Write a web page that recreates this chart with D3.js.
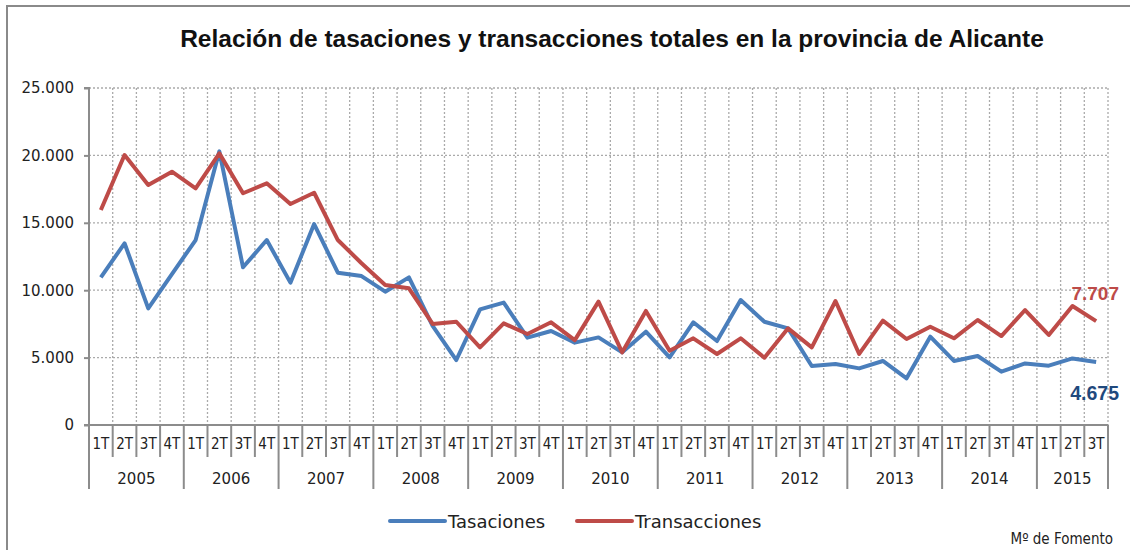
<!DOCTYPE html>
<html><head><meta charset="utf-8">
<script src="https://cdn.jsdelivr.net/npm/d3@7"></script>
<style>
html,body{margin:0;padding:0;background:#fff;}
svg{display:block;}
</style></head>
<body>
<svg id="c" width="1130" height="550"></svg>
<script>
const years = ["2005","2006","2007","2008","2009","2010","2011","2012","2013","2014","2015"];
const quarters = ["1T","2T","3T","4T"];
const tasaciones = [
 10950,13480,8650,11200,
 13720,20300,11700,13720,
 10560,14910,11300,11050,
 9890,10950,7350,4820,
 8580,9080,6480,6970,
 6110,6500,5390,6920,
 5020,7620,6230,9270,
 7660,7170,4380,4520,
 4200,4750,3460,6550,
 4750,5120,3960,4570,
 4400,4940,4675
];
const transacciones = [
 15950,20030,17800,18790,
 17560,20150,17190,17930,
 16390,17230,13720,12000,
 10390,10140,7500,7660,
 5760,7540,6750,7620,
 6300,9150,5390,8460,
 5510,6430,5270,6430,
 4990,7170,5760,9200,
 5270,7740,6380,7290,
 6430,7790,6600,8530,
 6680,8830,7707
];
const yTicks = [0,5000,10000,15000,20000,25000];
const seriesNames = ["Tasaciones","Transacciones"];
const title = "Relación de tasaciones y transacciones totales en la provincia de Alicante";
const source = "Mº de Fomento";

// categories
const cats = [];
years.forEach(y => quarters.forEach(q => { if (cats.length < tasaciones.length) cats.push({y, q}); }));

const svg = d3.select("#c");
const X0 = 89, X1 = 1108, Y0 = 425, Y1 = 88;
const x = d3.scaleBand().domain(d3.range(cats.length)).range([X0, X1]).padding(0);
const y = d3.scaleLinear().domain([0, 25000]).range([Y0, Y1]);
const fmt = v => d3.format(",")(v).replace(/,/g, ".");
const axisCol = "#8c8c8c";
const blue = "#4a7ebb", red = "#be4b48";

// frame
svg.append("path").attr("d", `M7,550 L7,6 L1130,6`).attr("fill","none").attr("stroke","#8a8a8a").attr("stroke-width",2);

// title
svg.append("text").attr("x", 612).attr("y", 47).attr("text-anchor","middle")
  .attr("font-family","Liberation Sans, Arial, sans-serif").attr("font-weight","bold")
  .attr("font-size", 24.5).attr("fill","#111").text(title);

// horizontal grid
svg.append("g").selectAll("line").data(yTicks.filter(d => d > 0)).join("line")
  .attr("x1", X0).attr("x2", X1).attr("y1", d => y(d)).attr("y2", d => y(d))
  .attr("stroke", "#aaa").attr("stroke-width", 1.3).attr("stroke-dasharray", "2,2");
// vertical grid
svg.append("g").selectAll("line").data(d3.range(1, cats.length + 1)).join("line")
  .attr("x1", i => x(i - 1) + x.bandwidth()).attr("x2", i => x(i - 1) + x.bandwidth())
  .attr("y1", Y1).attr("y2", Y0)
  .attr("stroke", "#aaa").attr("stroke-width", 1.3).attr("stroke-dasharray", "2,2");

// y axis
const yAxis = d3.axisLeft(y).tickValues(yTicks).tickFormat(fmt).tickSize(5).tickPadding(10);
const gy = svg.append("g").attr("transform", `translate(${X0},0)`).call(yAxis);
gy.select(".domain").attr("stroke", axisCol).attr("stroke-width", 2).attr("d", `M-5,${Y1}H0V${Y0}H-5`);
gy.selectAll(".tick line").attr("stroke", axisCol).attr("stroke-width", 2);
gy.selectAll(".tick text").attr("font-family","DejaVu Sans, sans-serif").attr("font-size", 15).attr("fill","#222");

// x axis: quarter labels
const xAxis = d3.axisBottom(x).tickFormat(i => cats[i].q).tickSize(0).tickPadding(10);
const gx = svg.append("g").attr("transform", `translate(0,${Y0})`).call(xAxis);
gx.select(".domain").attr("stroke", axisCol).attr("stroke-width", 2).attr("d", `M${X0-5},0H${X1}`);
gx.selectAll(".tick text").attr("font-family","DejaVu Sans Condensed, DejaVu Sans, sans-serif")
  .attr("font-size", 15).attr("fill","#222").attr("dy", "0.9em");
// separators between quarters
svg.append("g").selectAll("line").data(d3.range(0, cats.length + 1)).join("line")
  .attr("x1", i => i < cats.length ? x(i) : x(i - 1) + x.bandwidth())
  .attr("x2", i => i < cats.length ? x(i) : x(i - 1) + x.bandwidth())
  .attr("y1", Y0).attr("y2", i => (i % 4 === 0 || i === cats.length) ? 489 : 457)
  .attr("stroke", axisCol).attr("stroke-width", 2);
// year labels
svg.append("g").selectAll("text").data(years).join("text")
  .attr("x", d => {
    const idx = d3.range(cats.length).filter(i => cats[i].y === d);
    return (x(idx[0]) + x(idx[idx.length - 1]) + x.bandwidth()) / 2;
  })
  .attr("y", 484).attr("text-anchor","middle")
  .attr("font-family","DejaVu Sans, sans-serif").attr("font-size", 15).attr("fill","#222").text(d => d);

// lines
const line = d3.line().x((d, i) => x(i) + x.bandwidth() / 2).y(d => y(d)).curve(d3.curveLinear);
svg.append("path").datum(tasaciones).attr("d", line).attr("fill","none").attr("stroke", blue)
  .attr("stroke-width", 4).attr("stroke-linejoin","round");
svg.append("path").datum(transacciones).attr("d", line).attr("fill","none").attr("stroke", red)
  .attr("stroke-width", 4).attr("stroke-linejoin","round");

// end labels
const last = cats.length - 1;
svg.append("text").attr("x", 1119).attr("y", 300).attr("text-anchor","end")
  .attr("font-family","Liberation Sans, Arial, sans-serif").attr("font-weight","bold").attr("font-size", 19)
  .attr("fill", red).text(fmt(transacciones[last]));
svg.append("text").attr("x", 1119).attr("y", 400).attr("text-anchor","end")
  .attr("font-family","Liberation Sans, Arial, sans-serif").attr("font-weight","bold").attr("font-size", 19.5)
  .attr("fill", "#1f497d").text(fmt(tasaciones[last]));

// legend
const leg = [{n: seriesNames[0], c: blue, x: 390}, {n: seriesNames[1], c: red, x: 577}];
const lg = svg.append("g");
leg.forEach(l => {
  lg.append("line").attr("x1", l.x).attr("x2", l.x + 55).attr("y1", 521).attr("y2", 521)
    .attr("stroke", l.c).attr("stroke-width", 4).attr("stroke-linecap","round");
  lg.append("text").attr("x", l.x + 58).attr("y", 528)
    .attr("font-family","DejaVu Sans, sans-serif").attr("font-size", 18)
    .attr("fill","#222").text(l.n);
});

// source
svg.append("text").attr("x", 1113).attr("y", 544).attr("text-anchor","end")
  .attr("font-family","DejaVu Sans Condensed, DejaVu Sans, sans-serif").attr("font-size", 15)
  .attr("fill","#222").text(source);
</script>
</body></html>
